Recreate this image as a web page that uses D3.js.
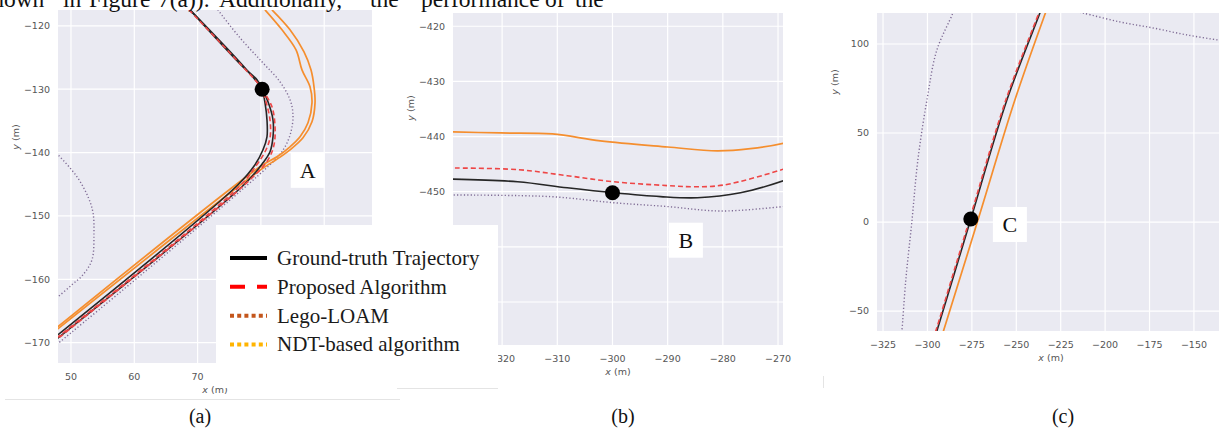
<!DOCTYPE html>
<html>
<head>
<meta charset="utf-8">
<script src="https://cdn.jsdelivr.net/npm/d3@7"></script>
<style>
  body { margin: 0; background: #fff; }
  svg { display: block; }
</style>
</head>
<body>
<svg id="fig" width="1219" height="428"></svg>
<script>
// ---- data (x, y in metres) ----

// panel (a): the bend near A, two laps of each trajectory
const aGroundTruth1 = [[68.80,-117.48],[77.17,-126.47],[79.38,-128.52],[80.17,-129.94],[80.65,-132.15],[80.96,-134.83],[80.96,-137.51],[80.33,-139.56],[79.07,-141.92],[76.38,-145.08],[47.0,-169.5]];
const aGroundTruth2 = [[68.96,-117.63],[77.33,-126.47],[80.17,-129.94],[81.12,-131.99],[81.91,-134.83],[81.91,-137.51],[81.44,-139.87],[80.33,-141.61],[77.49,-144.92],[47.0,-170.0]];
const aProposed1 = [[68.64,-117.48],[77.01,-126.31],[80.02,-129.78],[80.80,-131.99],[81.44,-134.83],[81.44,-137.67],[80.65,-139.87],[79.23,-142.08],[76.70,-145.24],[47.0,-169.85]];
const aProposed2 = [[80.20,-130.0],[81.75,-132.78],[82.23,-135.93],[82.07,-138.77],[81.12,-141.14],[78.28,-144.29],[47.0,-170.1]];
const aLegoLoam1 = [[80.65,-117.48],[83.33,-120.63],[85.55,-123.79],[86.49,-126.94],[87.76,-129.62],[88.07,-132.15],[87.44,-135.30],[86.18,-137.51],[84.60,-139.09],[82.54,-140.66],[79.86,-142.24],[47.0,-168.24]];
const aLegoLoam2 = [[81.75,-117.48],[84.60,-120.63],[86.81,-124.10],[87.91,-126.94],[88.39,-129.62],[88.55,-132.15],[88.07,-135.14],[86.65,-137.67],[84.60,-139.56],[82.39,-141.14],[80.17,-142.56],[47.0,-168.55]];
const aNdt1 = [[72.9,-117.0],[73.22,-117.48],[76.70,-121.89],[80.17,-125.68],[83.02,-128.83],[84.60,-131.67],[85.07,-134.04],[84.75,-136.72],[83.81,-139.09],[82.23,-141.14],[47.0,-170.9]];
const aNdt2 = [[46.5,-139.0],[47.95,-140.35],[50.95,-143.82],[52.69,-146.97],[53.48,-149.50],[53.63,-152.65],[53.32,-156.91],[51.90,-159.27],[50.16,-160.85],[47.95,-162.74],[46.5,-163.8]];
const aMarker = [80.2, -130.0];
const aTag = { text: 'A', at: [87.4, -142.8] };

// panel (b): the stretch near B
const bGroundTruth = [[-330,-447.7],[-317.2,-448.2],[-308.2,-449.3],[-299.8,-450.2],[-291.3,-450.9],[-284.6,-451.1],[-276.8,-450.2],[-269.0,-448.0],[-268,-447.6]];
const bProposed = [[-330,-445.7],[-317.2,-446.0],[-308.2,-447.1],[-299.8,-448.2],[-290.0,-448.9],[-285.3,-449.1],[-279.9,-448.8],[-269.0,-445.9],[-268,-445.5]];
const bLegoLoam = [[-330,-439.15],[-320.3,-439.35],[-310.9,-439.53],[-302.2,-440.8],[-290.0,-441.9],[-281.0,-442.6],[-275.0,-442.2],[-269.0,-441.2],[-268,-440.9]];
const bNdt = [[-330,-450.6],[-311.2,-450.9],[-299.8,-452.0],[-290.0,-452.7],[-280.4,-453.5],[-269.0,-452.7],[-268,-452.6]];
const bMarker = [-300.0, -450.2];
const bTag = { text: 'B', at: [-286.7, -458.8] };

// panel (c): the straight near C
const cGroundTruth = [[-296.3,-66],[-294.7,-61.2],[-285.2,-30],[-275.6,1.7],[-255.3,68.5],[-236.7,117.4],[-235.0,122]];
const cProposed = [[-296.9,-66],[-295.3,-61.2],[-285.8,-30],[-276.2,1.7],[-255.9,68.5],[-237.3,117.4],[-235.6,122]];
const cLegoLoam = [[-292.7,-66],[-291.0,-61.2],[-271.4,1.7],[-250.8,68.5],[-233.6,117.4],[-231.9,122]];
const cNdt1 = [[-283.5,124],[-285.7,117.4],[-294.7,96.6],[-300.3,68.5],[-305.4,34.8],[-308.8,0],[-312.2,-32.6],[-314.4,-61.2],[-315.0,-66]];
const cNdt2 = [[-220.0,119.1],[-212.5,117.4],[-191.7,112.4],[-173.1,109.0],[-154.0,105.1],[-136.0,102.2],[-130.0,101.5]];
const cMarker = [-275.6, 1.7];
const cTag = { text: 'C', at: [-253.6, -1.4] };

// ticks
const aXTicks = [50, 60, 70, 80, 90];
const aYTicks = [-120, -130, -140, -150, -160, -170];
const bXTicks = [-320, -310, -300, -290, -280, -270];
const bYTicks = [-420, -430, -440, -450, -460, -470];
const cXTicks = [-325, -300, -275, -250, -225, -200, -175, -150];
const cYTicks = [-50, 0, 50, 100];

// legend
const legendNames = ['Ground-truth Trajectory', 'Proposed Algorithm', 'Lego-LOAM', 'NDT-based algorithm'];

// running text above the figure (cut off at the top)
const headWords = ['shown', 'in', 'Figure', '7(a)).', 'Additionally,', 'the', 'performance', 'of', 'the'];
const headWordX = [-17, 63, 89, 158, 219, 370, 421, 545, 575];

// ---- styles ----
const sty = {
  gt:   { stroke: '#262626', width: 1.6, dash: null },
  prop: { stroke: '#ee4646', width: 1.6, dash: '5 3' },
  lego: { stroke: '#f58e2e', width: 1.7, dash: null },
  ndt:  { stroke: '#7e6a94', width: 1.4, dash: '1.2 2.2' },
};

// white block pasted over (a)/(b) that carries the legend
const legendBlock = { x: 216, y: 225, w: 282, h: 163 };

const panels = [
  { key: 'a', box: [58, 10, 372, 363], xDom: [47.95, 97.55], yDom: [-117.5, -173.2],
    xTicks: aXTicks, yTicks: aYTicks, yLabelY: 137, caption: [200, '(a)'],
    series: [[aNdt1, 'ndt'], [aNdt2, 'ndt'], [aLegoLoam1, 'lego'], [aLegoLoam2, 'lego'],
             [aGroundTruth1, 'gt'], [aGroundTruth2, 'gt'], [aProposed1, 'prop'], [aProposed2, 'prop']],
    marker: aMarker, tag: aTag },
  { key: 'b', box: [453, 13, 783, 345], xDom: [-328.9, -269.1], yDom: [-417.6, -477.8],
    xTicks: bXTicks, yTicks: bYTicks, yLabelY: 108, caption: [623, '(b)'],
    series: [[bNdt, 'ndt'], [bLegoLoam, 'lego'], [bGroundTruth, 'gt'], [bProposed, 'prop']],
    marker: bMarker, tag: bTag },
  { key: 'c', box: [877, 13, 1219, 331], xDom: [-328.4, -135.9], yDom: [117.4, -61.2],
    xTicks: cXTicks, yTicks: cYTicks, yLabelY: 82, caption: [1063, '(c)'],
    series: [[cNdt1, 'ndt'], [cNdt2, 'ndt'], [cLegoLoam, 'lego'], [cGroundTruth, 'gt'], [cProposed, 'prop']],
    marker: cMarker, tag: cTag },
];

const svg = d3.select('#fig');
const defs = svg.append('defs');
const fmt = d => d < 0 ? '\u2212' + Math.abs(d) : String(d);
const underLegend = (px, py) =>
  px > legendBlock.x + 4 && px < legendBlock.x + legendBlock.w - 12 && py > legendBlock.y && py < legendBlock.y + legendBlock.h;

panels.forEach(p => {
  const [x0, y0, x1, y1] = p.box;
  const x = d3.scaleLinear().domain(p.xDom).range([x0, x1]);
  const y = d3.scaleLinear().domain(p.yDom).range([y0, y1]);
  const g = svg.append('g');

  defs.append('clipPath').attr('id', 'clip-' + p.key)
    .append('rect').attr('x', x0).attr('y', y0).attr('width', x1 - x0).attr('height', y1 - y0);

  g.append('rect').attr('x', x0).attr('y', y0).attr('width', x1 - x0).attr('height', y1 - y0)
    .attr('fill', '#eaeaf2');

  // grid
  g.selectAll('line.gx').data(p.xTicks).join('line').attr('class', 'gx')
    .attr('x1', d => x(d)).attr('x2', d => x(d)).attr('y1', y0).attr('y2', y1)
    .attr('stroke', '#fff').attr('stroke-width', 1.2);
  g.selectAll('line.gy').data(p.yTicks).join('line').attr('class', 'gy')
    .attr('y1', d => y(d)).attr('y2', d => y(d)).attr('x1', x0).attr('x2', x1)
    .attr('stroke', '#fff').attr('stroke-width', 1.2);

  // tick labels (the ones hidden behind the legend block are left out)
  g.selectAll('text.tx').data(p.xTicks.filter(d => !underLegend(x(d), y1 + 13))).join('text').attr('class', 'tx')
    .attr('x', d => x(d)).attr('y', y1 + 13.5).attr('dy', '0.35em')
    .attr('text-anchor', 'middle').attr('font-family', 'DejaVu Sans').attr('font-size', 9.5)
    .attr('fill', '#555').text(fmt);
  g.selectAll('text.ty').data(p.yTicks.filter(d => !underLegend(x0 - 20, y(d)))).join('text').attr('class', 'ty')
    .attr('x', x0 - 8).attr('y', d => y(d)).attr('dy', '0.35em')
    .attr('text-anchor', 'end').attr('font-family', 'DejaVu Sans').attr('font-size', 9.5)
    .attr('fill', '#555').text(fmt);

  // axis labels
  const xl = g.append('text').attr('x', (x0 + x1) / 2 + (p.key === 'c' ? 3 : 0)).attr('y', y1 + 27).attr('dy', '0.35em')
    .attr('text-anchor', 'middle').attr('font-family', 'DejaVu Sans').attr('font-size', 9.5).attr('fill', '#555');
  xl.append('tspan').attr('font-style', 'italic').text('x');
  xl.append('tspan').text(' (m)');
  const yl = g.append('text').attr('transform', `translate(${x0 - 42},${p.yLabelY}) rotate(-90)`).attr('dy', '0.35em')
    .attr('text-anchor', 'middle').attr('font-family', 'DejaVu Sans').attr('font-size', 9.5).attr('fill', '#555');
  yl.append('tspan').attr('font-style', 'italic').text('y');
  yl.append('tspan').text(' (m)');

  // trajectories
  const line = d3.line().x(d => x(d[0])).y(d => y(d[1])).curve(d3.curveCatmullRom.alpha(0.5));
  const plot = g.append('g').attr('clip-path', `url(#clip-${p.key})`);
  p.series.forEach(([pts, k]) => {
    const s = sty[k];
    plot.append('path').attr('d', line(pts)).attr('fill', 'none')
      .attr('stroke', s.stroke).attr('stroke-width', s.width)
      .attr('stroke-dasharray', s.dash).attr('stroke-linejoin', 'round');
  });

  plot.append('circle').attr('cx', x(p.marker[0])).attr('cy', y(p.marker[1])).attr('r', 7.5).attr('fill', '#000');

  // letter tag
  const tx = x(p.tag.at[0]), ty = y(p.tag.at[1]);
  g.append('rect').attr('x', tx - 17).attr('y', ty - 17.5).attr('width', 34).attr('height', 35).attr('fill', '#fff');
  g.append('text').attr('x', tx).attr('y', ty).attr('dy', '0.35em').attr('text-anchor', 'middle')
    .attr('font-family', 'Liberation Serif').attr('font-size', 22).attr('fill', '#111').text(p.tag.text);

  // caption
  svg.append('text').attr('x', p.caption[0]).attr('y', 416).attr('dy', '0.35em').attr('text-anchor', 'middle')
    .attr('font-family', 'Liberation Serif').attr('font-size', 20).attr('fill', '#111').text(p.caption[1]);
});

// pasted legend (white block covering parts of (a) and (b))
svg.append('rect').attr('x', legendBlock.x).attr('y', legendBlock.y)
  .attr('width', legendBlock.w).attr('height', legendBlock.h).attr('fill', '#fff');
svg.append('line').attr('x1', 5).attr('x2', 400).attr('y1', 399.5).attr('y2', 399.5).attr('stroke', '#e4e4e4');
svg.append('line').attr('x1', 397).attr('x2', 498).attr('y1', 388.5).attr('y2', 388.5).attr('stroke', '#e4e4e4');
svg.append('line').attr('x1', 823.5).attr('x2', 823.5).attr('y1', 376).attr('y2', 388).attr('stroke', '#e4e4e4');

const legendStyles = [
  { stroke: '#000', dash: null },
  { stroke: '#ff0000', dash: '15 12' },
  { stroke: '#c4561c', dash: '4 3.2' },
  { stroke: '#ffb400', dash: '4 3.2' },
];
const rowY = d3.scalePoint().domain(legendNames).range([258, 344.5]);
const leg = svg.append('g');
leg.selectAll('line').data(legendNames).join('line')
  .attr('x1', 230).attr('x2', 267).attr('y1', d => rowY(d)).attr('y2', d => rowY(d))
  .attr('stroke', (d, i) => legendStyles[i].stroke).attr('stroke-width', 4)
  .attr('stroke-dasharray', (d, i) => legendStyles[i].dash);
leg.selectAll('text').data(legendNames).join('text')
  .attr('x', 277).attr('y', d => rowY(d)).attr('dy', '0.33em')
  .attr('font-family', 'Liberation Serif').attr('font-size', 21).attr('fill', '#1a1a1a').text(d => d);

// cut-off body text at the top
svg.append('g').selectAll('text').data(headWords).join('text')
  .attr('x', (d, i) => headWordX[i]).attr('y', 7)
  .attr('font-family', 'Liberation Serif').attr('font-size', 23.5).attr('fill', '#111').text(d => d);
</script>
</body>
</html>
